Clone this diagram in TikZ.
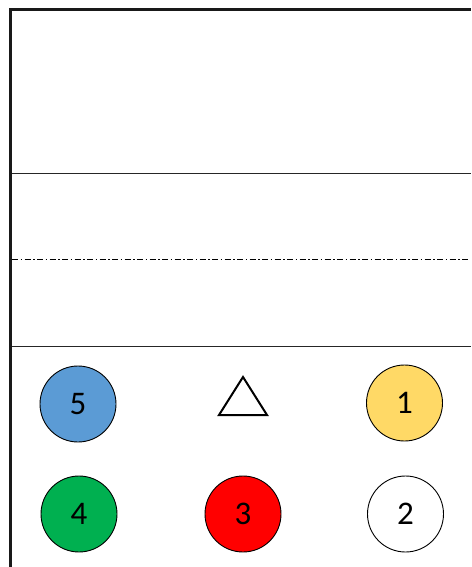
\documentclass[tikz,border=0pt]{standalone}
\usepackage{fontspec}
\setmainfont{Carlito}
\definecolor{ballblue}{HTML}{5B9BD5}
\definecolor{ballyellow}{HTML}{FFD966}
\definecolor{ballgreen}{HTML}{00B050}
\definecolor{ballred}{HTML}{FF0000}
\usetikzlibrary{shapes.geometric}

\begin{document}
\begin{tikzpicture}[
  x=1pt, y=-1pt,
  ball/.style={circle, draw=black, line width=0.9pt, minimum size=76pt,
               inner sep=0pt, font=\fontsize{33}{36}\selectfont},
  rule/.style={line width=1pt, draw=black!85},
  frame/.style={line width=2.2pt, draw=black!90}
]
  \useasboundingbox (0,0) rectangle (471,567);

  % Frame
  \draw[frame] (10.5,567) -- (10.5,9.5) -- (471,9.5);

  % Separating lines
  \draw[rule] (11.5,173) -- (471,173);
  \draw[rule] (11.5,346) -- (471,346);
  \draw[line width=0.9pt, dash pattern=on 6pt off 2.5pt on 1.5pt off 2.5pt]
    (12,259) -- (468,259);

  % Top row
  \node[ball, fill=ballblue] (five) at (78,404) {5};
  \node[draw=black, line width=2pt, isosceles triangle, shape border rotate=90,
        isosceles triangle stretches, minimum width=48pt, minimum height=38pt,
        inner sep=0pt, anchor=south] (mark) at (243,416) {};
  \node[ball, fill=ballyellow] (one) at (404.5,403) {1};

  % Bottom row
  \node[ball, fill=ballgreen] (four) at (79,514) {4};
  \node[ball, fill=ballred] (three) at (243,514) {3};
  \node[ball, fill=white] (two) at (405.5,514) {2};
\end{tikzpicture}
\end{document}
